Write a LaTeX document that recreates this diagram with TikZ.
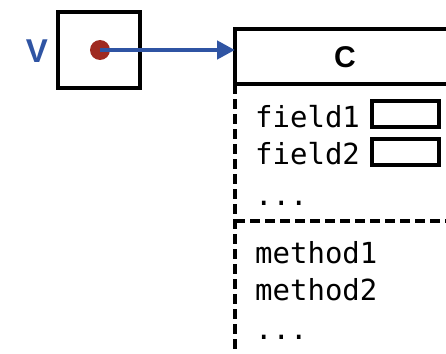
\documentclass[tikz,border=0pt]{standalone}
\usepackage{fontspec}
\setmainfont{Liberation Sans}
\newfontfamily\codefont{DejaVu Sans Mono}
\usetikzlibrary{arrows.meta}
\definecolor{refblue}{RGB}{47,84,163}
\definecolor{dotred}{RGB}{160,42,32}
\tikzset{
  frame/.style={line width=4pt},
  dashframe/.style={line width=4pt, dash pattern=on 10pt off 5pt},
  slot/.style={draw, line width=4pt, minimum width=67pt, minimum height=26pt, inner sep=0pt},
  member/.style={anchor=base west, inner sep=0pt, font=\codefont\fontsize{29}{32}\selectfont},
  pointer/.style={refblue, line width=4.7pt, -{Triangle[length=18pt,width=18pt]}},
}
\begin{document}
\begin{tikzpicture}[x=1pt,y=-1pt]
  \useasboundingbox (0,0) rectangle (446,353);
  % variable cell holding a reference
  \node[draw, frame, minimum width=82pt, minimum height=76pt, inner sep=0pt] (vbox) at (98.7,50) {};
  \node[refblue, font=\bfseries\fontsize{33}{36}\selectfont, inner sep=0pt] (vname) at (37,51) {V};
  \node[circle, fill=dotred, minimum size=20pt, inner sep=0pt] (ref) at (100,50) {};
  % object of class C (open to the right)
  \coordinate (objtl) at (235,28.7);
  \coordinate (objtip) at (235,50);
  \draw[frame] (446,28.7) -- (objtl) -- (235,86);
  \draw[frame] (233,84) -- (446,84);
  \draw[dashframe] (235,84) -- (235,353);
  \draw[dashframe] (235,221) -- (446,221);
  \node[font=\bfseries\fontsize{30}{32}\selectfont, inner sep=0pt] (cname) at (345,57) {C};
  % fields (placed on their baselines)
  \node[member] (f1) at (255,127) {field1};
  \node[slot] (s1) at (405,114.3) {};
  \node[member] (f2) at (255,164) {field2};
  \node[slot] (s2) at (405,151.6) {};
  \node[member] (fdots) at (255,205) {...};
  % methods
  \node[member] (m1) at (255,263) {method1};
  \node[member] (m2) at (255,300) {method2};
  \node[member] (mdots) at (255,339) {...};
  % reference arrow
  \draw[pointer] (ref.center) -- (objtip);
\end{tikzpicture}
\end{document}
